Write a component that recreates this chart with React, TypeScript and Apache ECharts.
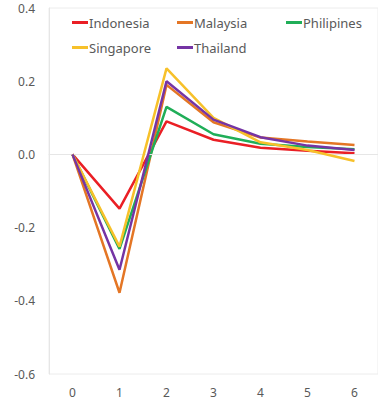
import React, { useEffect, useRef } from "react";
import * as echarts from "echarts";

const categories = ["0", "1", "2", "3", "4", "5", "6"];
const seriesNames = ["Indonesia", "Malaysia", "Philipines", "Singapore", "Thailand"];
const indonesia = [0, -0.148, 0.09, 0.04, 0.018, 0.01, 0.003];
const malaysia = [0, -0.378, 0.19, 0.088, 0.046, 0.035, 0.026];
const philipines = [0, -0.258, 0.13, 0.055, 0.029, 0.02, 0.014];
const singapore = [0, -0.252, 0.235, 0.1, 0.033, 0.012, -0.018];
const thailand = [0, -0.315, 0.2, 0.095, 0.047, 0.024, 0.012];
const yTicks = [-0.6, -0.4, -0.2, 0.0, 0.2, 0.4];

const colors = ["#ea1f25", "#e47625", "#20ae58", "#f7c12a", "#7534a4"];
const values = [indonesia, malaysia, philipines, singapore, thailand];
const legendPos = [
  { left: 72, top: 16 },
  { left: 177, top: 16 },
  { left: 286, top: 16 },
  { left: 72, top: 41 },
  { left: 177, top: 41 },
];

export default function App() {
  const ref = useRef<HTMLDivElement>(null);
  useEffect(() => {
    if (!ref.current) return;
    const chart = echarts.init(ref.current, null, { renderer: "svg" });
    const textStyle = { color: "#595959", fontSize: 13, fontFamily: "Noto Sans" };
    chart.setOption({
      animation: false,
      backgroundColor: "#ffffff",
      grid: {
        left: 49,
        top: 8,
        width: 336,
        height: 366,
        show: true,
        borderColor: "#ececec",
        borderWidth: 1,
      },
      legend: seriesNames.map((n, i) => ({
        data: [n],
        left: legendPos[i].left,
        top: legendPos[i].top,
        itemWidth: 16,
        itemHeight: 3,
        itemGap: 0,
        icon: "rect",
        textStyle: { ...textStyle, padding: [0, 0, 0, -4] },
        padding: 0,
      })),
      xAxis: {
        type: "category",
        data: categories,
        boundaryGap: true,
        axisLine: { show: true, lineStyle: { color: "#e6e6e6" } },
        axisTick: { show: false },
        axisLabel: { color: "#595959", fontSize: 12, fontFamily: "Noto Sans", margin: 12 },
      },
      yAxis: {
        type: "value",
        min: yTicks[0],
        max: yTicks[yTicks.length - 1],
        interval: 0.2,
        axisLine: { show: true, lineStyle: { color: "#e6e6e6" } },
        axisTick: { show: false },
        splitLine: { show: false },
        axisLabel: {
          color: "#595959",
          fontSize: 12,
          fontFamily: "Noto Sans",
          margin: 14,
          formatter: (v: number) => v.toFixed(1),
        },
      },
      series: seriesNames.map((n, i) => ({
        name: n,
        type: "line",
        data: values[i],
        symbol: "none",
        color: colors[i],
        lineStyle: { width: 2.5, color: colors[i] },
        z: 2 + i,
        markLine:
          i === 0
            ? {
                silent: true,
                symbol: "none",
                label: { show: false },
                lineStyle: { color: "#e6e6e6", width: 1, type: "solid" },
                data: [{ yAxis: 0 }],
              }
            : undefined,
      })),
    });
    return () => chart.dispose();
  }, []);
  return <div ref={ref} style={{ width: 378, height: 402, position: "absolute", left: 0, top: 0 }} />;
}
